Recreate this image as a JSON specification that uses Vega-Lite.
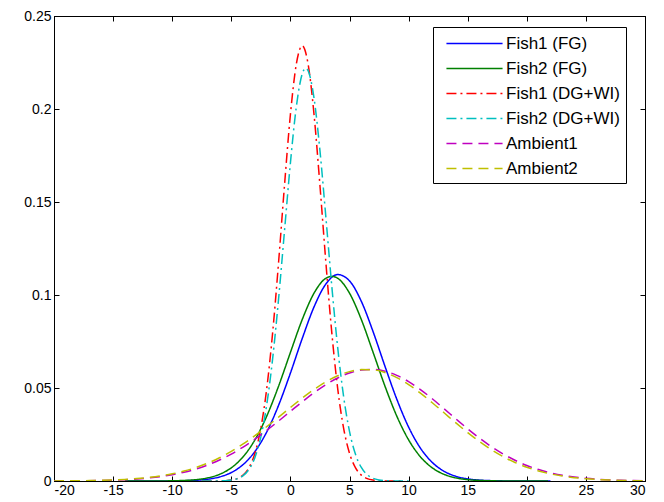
{
  "$schema": "https://vega.github.io/schema/vega-lite/v6.json",
  "width": 591,
  "height": 465,
  "autosize": {"type": "none"},
  "padding": {"left": 54, "top": 16, "right": 19, "bottom": 21},
  "background": "white",
  "config": {
    "view": {"stroke": "black", "strokeWidth": 1},
    "axis": {
      "domainColor": "black", "domainWidth": 1, "tickColor": "black", "tickSize": -5, "tickWidth": 1,
      "labelColor": "black", "labelFont": "Liberation Sans", "labelFontSize": 14, "grid": false, "title": null
    },
    "legend": {
      "strokeColor": "black", "fillColor": "white", "padding": 6, "cornerRadius": 0,
      "symbolType": "M-3,0H3", "symbolSize": 350, "symbolStrokeWidth": 1.5, "symbolOffset": 25,
      "labelFont": "Liberation Sans", "labelFontSize": 17, "labelColor": "black", "labelLimit": 300,
      "rowPadding": 6, "labelOffset": 21
    }
  },
  "datasets": {
    "curves": [
      {"s": "Fish1 (FG)", "x": -14, "y": 0.0000004},
      {"s": "Fish1 (FG)", "x": -13, "y": 0.0000014},
      {"s": "Fish1 (FG)", "x": -12, "y": 0.000005},
      {"s": "Fish1 (FG)", "x": -11, "y": 0.0000168},
      {"s": "Fish1 (FG)", "x": -10, "y": 0.0000517},
      {"s": "Fish1 (FG)", "x": -9, "y": 0.000148},
      {"s": "Fish1 (FG)", "x": -8, "y": 0.00039},
      {"s": "Fish1 (FG)", "x": -7, "y": 0.000957},
      {"s": "Fish1 (FG)", "x": -6, "y": 0.00217},
      {"s": "Fish1 (FG)", "x": -5, "y": 0.00455},
      {"s": "Fish1 (FG)", "x": -4, "y": 0.00884},
      {"s": "Fish1 (FG)", "x": -3, "y": 0.01587},
      {"s": "Fish1 (FG)", "x": -2, "y": 0.02642},
      {"s": "Fish1 (FG)", "x": -1, "y": 0.0407},
      {"s": "Fish1 (FG)", "x": 0, "y": 0.058},
      {"s": "Fish1 (FG)", "x": 1, "y": 0.0766},
      {"s": "Fish1 (FG)", "x": 2, "y": 0.0936},
      {"s": "Fish1 (FG)", "x": 3, "y": 0.1059},
      {"s": "Fish1 (FG)", "x": 4, "y": 0.111},
      {"s": "Fish1 (FG)", "x": 5, "y": 0.1076},
      {"s": "Fish1 (FG)", "x": 6, "y": 0.0966},
      {"s": "Fish1 (FG)", "x": 7, "y": 0.0802},
      {"s": "Fish1 (FG)", "x": 8, "y": 0.0617},
      {"s": "Fish1 (FG)", "x": 9, "y": 0.044},
      {"s": "Fish1 (FG)", "x": 10, "y": 0.029},
      {"s": "Fish1 (FG)", "x": 11, "y": 0.01768},
      {"s": "Fish1 (FG)", "x": 12, "y": 0.00999},
      {"s": "Fish1 (FG)", "x": 13, "y": 0.00523},
      {"s": "Fish1 (FG)", "x": 14, "y": 0.00253},
      {"s": "Fish1 (FG)", "x": 15, "y": 0.00113},
      {"s": "Fish1 (FG)", "x": 16, "y": 0.00047},
      {"s": "Fish1 (FG)", "x": 17, "y": 0.00018},
      {"s": "Fish1 (FG)", "x": 18, "y": 0.000064},
      {"s": "Fish1 (FG)", "x": 19, "y": 0.000021},
      {"s": "Fish1 (FG)", "x": 20, "y": 0.0000064},
      {"s": "Fish1 (FG)", "x": 21, "y": 0.0000018},
      {"s": "Fish1 (FG)", "x": 22, "y": 0.0000005},

      {"s": "Fish2 (FG)", "x": -14, "y": 0.000001},
      {"s": "Fish2 (FG)", "x": -13, "y": 0.0000036},
      {"s": "Fish2 (FG)", "x": -12, "y": 0.0000121},
      {"s": "Fish2 (FG)", "x": -11, "y": 0.0000377},
      {"s": "Fish2 (FG)", "x": -10, "y": 0.000109},
      {"s": "Fish2 (FG)", "x": -9, "y": 0.000293},
      {"s": "Fish2 (FG)", "x": -8, "y": 0.000727},
      {"s": "Fish2 (FG)", "x": -7, "y": 0.00168},
      {"s": "Fish2 (FG)", "x": -6, "y": 0.00358},
      {"s": "Fish2 (FG)", "x": -5, "y": 0.00709},
      {"s": "Fish2 (FG)", "x": -4, "y": 0.01301},
      {"s": "Fish2 (FG)", "x": -3, "y": 0.02213},
      {"s": "Fish2 (FG)", "x": -2, "y": 0.0349},
      {"s": "Fish2 (FG)", "x": -1, "y": 0.051},
      {"s": "Fish2 (FG)", "x": 0, "y": 0.0691},
      {"s": "Fish2 (FG)", "x": 1, "y": 0.0868},
      {"s": "Fish2 (FG)", "x": 2, "y": 0.101},
      {"s": "Fish2 (FG)", "x": 3, "y": 0.109},
      {"s": "Fish2 (FG)", "x": 3.5, "y": 0.11},
      {"s": "Fish2 (FG)", "x": 4, "y": 0.109},
      {"s": "Fish2 (FG)", "x": 5, "y": 0.101},
      {"s": "Fish2 (FG)", "x": 6, "y": 0.0868},
      {"s": "Fish2 (FG)", "x": 7, "y": 0.0691},
      {"s": "Fish2 (FG)", "x": 8, "y": 0.051},
      {"s": "Fish2 (FG)", "x": 9, "y": 0.0349},
      {"s": "Fish2 (FG)", "x": 10, "y": 0.02213},
      {"s": "Fish2 (FG)", "x": 11, "y": 0.01301},
      {"s": "Fish2 (FG)", "x": 12, "y": 0.00709},
      {"s": "Fish2 (FG)", "x": 13, "y": 0.00358},
      {"s": "Fish2 (FG)", "x": 14, "y": 0.00168},
      {"s": "Fish2 (FG)", "x": 15, "y": 0.000727},
      {"s": "Fish2 (FG)", "x": 16, "y": 0.000293},
      {"s": "Fish2 (FG)", "x": 17, "y": 0.000109},
      {"s": "Fish2 (FG)", "x": 18, "y": 0.0000377},
      {"s": "Fish2 (FG)", "x": 19, "y": 0.0000121},
      {"s": "Fish2 (FG)", "x": 20, "y": 0.0000036},
      {"s": "Fish2 (FG)", "x": 21, "y": 0.000001},
      {"s": "Fish2 (FG)", "x": 21.8, "y": 0.0000003},

      {"s": "Fish1 (DG+WI)", "x": -7.5, "y": 0.000001},
      {"s": "Fish1 (DG+WI)", "x": -7, "y": 0.0000039},
      {"s": "Fish1 (DG+WI)", "x": -6.5, "y": 0.0000147},
      {"s": "Fish1 (DG+WI)", "x": -6, "y": 0.000051},
      {"s": "Fish1 (DG+WI)", "x": -5.5, "y": 0.000163},
      {"s": "Fish1 (DG+WI)", "x": -5, "y": 0.00048},
      {"s": "Fish1 (DG+WI)", "x": -4.5, "y": 0.00129},
      {"s": "Fish1 (DG+WI)", "x": -4, "y": 0.00318},
      {"s": "Fish1 (DG+WI)", "x": -3.5, "y": 0.00719},
      {"s": "Fish1 (DG+WI)", "x": -3, "y": 0.01493},
      {"s": "Fish1 (DG+WI)", "x": -2.5, "y": 0.02845},
      {"s": "Fish1 (DG+WI)", "x": -2, "y": 0.04977},
      {"s": "Fish1 (DG+WI)", "x": -1.5, "y": 0.0799},
      {"s": "Fish1 (DG+WI)", "x": -1, "y": 0.1176},
      {"s": "Fish1 (DG+WI)", "x": -0.5, "y": 0.1589},
      {"s": "Fish1 (DG+WI)", "x": 0, "y": 0.197},
      {"s": "Fish1 (DG+WI)", "x": 0.5, "y": 0.2241},
      {"s": "Fish1 (DG+WI)", "x": 1, "y": 0.234},
      {"s": "Fish1 (DG+WI)", "x": 1.5, "y": 0.2241},
      {"s": "Fish1 (DG+WI)", "x": 2, "y": 0.197},
      {"s": "Fish1 (DG+WI)", "x": 2.5, "y": 0.1589},
      {"s": "Fish1 (DG+WI)", "x": 3, "y": 0.1176},
      {"s": "Fish1 (DG+WI)", "x": 3.5, "y": 0.0799},
      {"s": "Fish1 (DG+WI)", "x": 4, "y": 0.04977},
      {"s": "Fish1 (DG+WI)", "x": 4.5, "y": 0.02845},
      {"s": "Fish1 (DG+WI)", "x": 5, "y": 0.01493},
      {"s": "Fish1 (DG+WI)", "x": 5.5, "y": 0.00719},
      {"s": "Fish1 (DG+WI)", "x": 6, "y": 0.00318},
      {"s": "Fish1 (DG+WI)", "x": 6.5, "y": 0.00129},
      {"s": "Fish1 (DG+WI)", "x": 7, "y": 0.00048},
      {"s": "Fish1 (DG+WI)", "x": 7.5, "y": 0.000163},
      {"s": "Fish1 (DG+WI)", "x": 8, "y": 0.000051},
      {"s": "Fish1 (DG+WI)", "x": 8.5, "y": 0.0000147},
      {"s": "Fish1 (DG+WI)", "x": 9, "y": 0.0000039},
      {"s": "Fish1 (DG+WI)", "x": 9.5, "y": 0.000001},

      {"s": "Fish2 (DG+WI)", "x": -7.5, "y": 0.0000014},
      {"s": "Fish2 (DG+WI)", "x": -7, "y": 0.0000052},
      {"s": "Fish2 (DG+WI)", "x": -6.5, "y": 0.000018},
      {"s": "Fish2 (DG+WI)", "x": -6, "y": 0.000058},
      {"s": "Fish2 (DG+WI)", "x": -5.5, "y": 0.000173},
      {"s": "Fish2 (DG+WI)", "x": -5, "y": 0.000476},
      {"s": "Fish2 (DG+WI)", "x": -4.5, "y": 0.00121},
      {"s": "Fish2 (DG+WI)", "x": -4, "y": 0.00287},
      {"s": "Fish2 (DG+WI)", "x": -3.5, "y": 0.00626},
      {"s": "Fish2 (DG+WI)", "x": -3, "y": 0.01268},
      {"s": "Fish2 (DG+WI)", "x": -2.5, "y": 0.02373},
      {"s": "Fish2 (DG+WI)", "x": -2, "y": 0.0411},
      {"s": "Fish2 (DG+WI)", "x": -1.5, "y": 0.0659},
      {"s": "Fish2 (DG+WI)", "x": -1, "y": 0.0979},
      {"s": "Fish2 (DG+WI)", "x": -0.5, "y": 0.1344},
      {"s": "Fish2 (DG+WI)", "x": 0, "y": 0.1709},
      {"s": "Fish2 (DG+WI)", "x": 0.5, "y": 0.2011},
      {"s": "Fish2 (DG+WI)", "x": 1, "y": 0.2189},
      {"s": "Fish2 (DG+WI)", "x": 1.3, "y": 0.222},
      {"s": "Fish2 (DG+WI)", "x": 1.5, "y": 0.2206},
      {"s": "Fish2 (DG+WI)", "x": 2, "y": 0.2058},
      {"s": "Fish2 (DG+WI)", "x": 2.5, "y": 0.1776},
      {"s": "Fish2 (DG+WI)", "x": 3, "y": 0.1419},
      {"s": "Fish2 (DG+WI)", "x": 3.5, "y": 0.1049},
      {"s": "Fish2 (DG+WI)", "x": 4, "y": 0.0718},
      {"s": "Fish2 (DG+WI)", "x": 4.5, "y": 0.0455},
      {"s": "Fish2 (DG+WI)", "x": 5, "y": 0.02666},
      {"s": "Fish2 (DG+WI)", "x": 5.5, "y": 0.01446},
      {"s": "Fish2 (DG+WI)", "x": 6, "y": 0.00726},
      {"s": "Fish2 (DG+WI)", "x": 6.5, "y": 0.00337},
      {"s": "Fish2 (DG+WI)", "x": 7, "y": 0.00145},
      {"s": "Fish2 (DG+WI)", "x": 7.5, "y": 0.00058},
      {"s": "Fish2 (DG+WI)", "x": 8, "y": 0.000213},
      {"s": "Fish2 (DG+WI)", "x": 8.5, "y": 0.0000724},
      {"s": "Fish2 (DG+WI)", "x": 9, "y": 0.0000229},
      {"s": "Fish2 (DG+WI)", "x": 9.5, "y": 0.0000067},
      {"s": "Fish2 (DG+WI)", "x": 10, "y": 0.0000018},

      {"s": "Ambient1", "x": -20, "y": 0.0000394},
      {"s": "Ambient1", "x": -19, "y": 0.0000673},
      {"s": "Ambient1", "x": -18, "y": 0.000113},
      {"s": "Ambient1", "x": -17, "y": 0.000185},
      {"s": "Ambient1", "x": -16, "y": 0.000298},
      {"s": "Ambient1", "x": -15, "y": 0.00047},
      {"s": "Ambient1", "x": -14, "y": 0.000726},
      {"s": "Ambient1", "x": -13, "y": 0.0011},
      {"s": "Ambient1", "x": -12, "y": 0.00163},
      {"s": "Ambient1", "x": -11, "y": 0.00237},
      {"s": "Ambient1", "x": -10, "y": 0.00337},
      {"s": "Ambient1", "x": -9, "y": 0.0047},
      {"s": "Ambient1", "x": -8, "y": 0.00642},
      {"s": "Ambient1", "x": -7, "y": 0.0086},
      {"s": "Ambient1", "x": -6, "y": 0.01127},
      {"s": "Ambient1", "x": -5, "y": 0.01449},
      {"s": "Ambient1", "x": -4, "y": 0.01825},
      {"s": "Ambient1", "x": -3, "y": 0.02252},
      {"s": "Ambient1", "x": -2, "y": 0.02723},
      {"s": "Ambient1", "x": -1, "y": 0.03225},
      {"s": "Ambient1", "x": 0, "y": 0.03743},
      {"s": "Ambient1", "x": 1, "y": 0.04257},
      {"s": "Ambient1", "x": 2, "y": 0.04743},
      {"s": "Ambient1", "x": 3, "y": 0.05178},
      {"s": "Ambient1", "x": 4, "y": 0.05539},
      {"s": "Ambient1", "x": 5, "y": 0.05805},
      {"s": "Ambient1", "x": 6, "y": 0.05961},
      {"s": "Ambient1", "x": 7, "y": 0.05997},
      {"s": "Ambient1", "x": 8, "y": 0.05903},
      {"s": "Ambient1", "x": 9, "y": 0.05681},
      {"s": "Ambient1", "x": 10, "y": 0.05344},
      {"s": "Ambient1", "x": 11, "y": 0.04915},
      {"s": "Ambient1", "x": 12, "y": 0.0442},
      {"s": "Ambient1", "x": 13, "y": 0.03885},
      {"s": "Ambient1", "x": 14, "y": 0.03339},
      {"s": "Ambient1", "x": 15, "y": 0.02805},
      {"s": "Ambient1", "x": 16, "y": 0.02304},
      {"s": "Ambient1", "x": 17, "y": 0.0185},
      {"s": "Ambient1", "x": 18, "y": 0.01453},
      {"s": "Ambient1", "x": 19, "y": 0.01115},
      {"s": "Ambient1", "x": 20, "y": 0.00836},
      {"s": "Ambient1", "x": 21, "y": 0.00614},
      {"s": "Ambient1", "x": 22, "y": 0.0044},
      {"s": "Ambient1", "x": 23, "y": 0.00309},
      {"s": "Ambient1", "x": 24, "y": 0.00212},
      {"s": "Ambient1", "x": 25, "y": 0.00142},
      {"s": "Ambient1", "x": 26, "y": 0.00093},
      {"s": "Ambient1", "x": 27, "y": 0.0006},
      {"s": "Ambient1", "x": 28, "y": 0.00037},
      {"s": "Ambient1", "x": 29, "y": 0.00023},
      {"s": "Ambient1", "x": 30, "y": 0.00014},

      {"s": "Ambient2", "x": -20, "y": 0.0000489},
      {"s": "Ambient2", "x": -19, "y": 0.0000831},
      {"s": "Ambient2", "x": -18, "y": 0.000138},
      {"s": "Ambient2", "x": -17, "y": 0.000225},
      {"s": "Ambient2", "x": -16, "y": 0.000358},
      {"s": "Ambient2", "x": -15, "y": 0.000561},
      {"s": "Ambient2", "x": -14, "y": 0.000858},
      {"s": "Ambient2", "x": -13, "y": 0.00129},
      {"s": "Ambient2", "x": -12, "y": 0.0019},
      {"s": "Ambient2", "x": -11, "y": 0.00273},
      {"s": "Ambient2", "x": -10, "y": 0.00386},
      {"s": "Ambient2", "x": -9, "y": 0.00534},
      {"s": "Ambient2", "x": -8, "y": 0.00723},
      {"s": "Ambient2", "x": -7, "y": 0.00961},
      {"s": "Ambient2", "x": -6, "y": 0.0125},
      {"s": "Ambient2", "x": -5, "y": 0.01593},
      {"s": "Ambient2", "x": -4, "y": 0.0199},
      {"s": "Ambient2", "x": -3, "y": 0.02435},
      {"s": "Ambient2", "x": -2, "y": 0.02921},
      {"s": "Ambient2", "x": -1, "y": 0.03431},
      {"s": "Ambient2", "x": 0, "y": 0.0395},
      {"s": "Ambient2", "x": 1, "y": 0.04456},
      {"s": "Ambient2", "x": 2, "y": 0.04924},
      {"s": "Ambient2", "x": 3, "y": 0.05332},
      {"s": "Ambient2", "x": 4, "y": 0.05657},
      {"s": "Ambient2", "x": 5, "y": 0.05881},
      {"s": "Ambient2", "x": 6, "y": 0.0599},
      {"s": "Ambient2", "x": 7, "y": 0.05976},
      {"s": "Ambient2", "x": 8, "y": 0.05829},
      {"s": "Ambient2", "x": 9, "y": 0.05558},
      {"s": "Ambient2", "x": 10, "y": 0.05182},
      {"s": "Ambient2", "x": 11, "y": 0.04723},
      {"s": "Ambient2", "x": 12, "y": 0.04209},
      {"s": "Ambient2", "x": 13, "y": 0.03667},
      {"s": "Ambient2", "x": 14, "y": 0.03122},
      {"s": "Ambient2", "x": 15, "y": 0.026},
      {"s": "Ambient2", "x": 16, "y": 0.02117},
      {"s": "Ambient2", "x": 17, "y": 0.01684},
      {"s": "Ambient2", "x": 18, "y": 0.0131},
      {"s": "Ambient2", "x": 19, "y": 0.00997},
      {"s": "Ambient2", "x": 20, "y": 0.00741},
      {"s": "Ambient2", "x": 21, "y": 0.00539},
      {"s": "Ambient2", "x": 22, "y": 0.00383},
      {"s": "Ambient2", "x": 23, "y": 0.00266},
      {"s": "Ambient2", "x": 24, "y": 0.00181},
      {"s": "Ambient2", "x": 25, "y": 0.0012},
      {"s": "Ambient2", "x": 26, "y": 0.00078},
      {"s": "Ambient2", "x": 27, "y": 0.0005},
      {"s": "Ambient2", "x": 28, "y": 0.00031},
      {"s": "Ambient2", "x": 29, "y": 0.00019},
      {"s": "Ambient2", "x": 30, "y": 0.00011}
    ]
  },
  "resolve": {"axis": {"x": "independent", "y": "independent"}},
  "layer": [
    {
      "data": {"name": "curves"},
      "mark": {"type": "line", "strokeWidth": 1.5, "interpolate": "monotone", "clip": true},
      "encoding": {
        "x": {
          "field": "x", "type": "quantitative",
          "scale": {"domain": [-20, 30], "nice": false, "zero": false},
          "axis": {"orient": "bottom", "values": [-20, -15, -10, -5, 0, 5, 10, 15, 20, 25, 30], "labelExpr": "toString(datum.value)", "labelPadding": 7}
        },
        "y": {
          "field": "y", "type": "quantitative",
          "scale": {"domain": [0, 0.25], "nice": false},
          "axis": {"orient": "left", "values": [0, 0.05, 0.1, 0.15, 0.2, 0.25], "format": "~g", "labelPadding": 8}
        },
        "color": {
          "field": "s", "type": "nominal",
          "scale": {
            "domain": ["Fish1 (FG)", "Fish2 (FG)", "Fish1 (DG+WI)", "Fish2 (DG+WI)", "Ambient1", "Ambient2"],
            "range": ["#0000FF", "#008000", "#FF0000", "#00BFBF", "#BF00BF", "#BFBF00"]
          },
          "legend": {"title": null, "orient": "none", "legendX": 379, "legendY": 11}
        },
        "strokeDash": {
          "field": "s", "type": "nominal",
          "scale": {
            "domain": ["Fish1 (FG)", "Fish2 (FG)", "Fish1 (DG+WI)", "Fish2 (DG+WI)", "Ambient1", "Ambient2"],
            "range": [[1, 0], [1, 0], [10, 4, 2, 4], [10, 4, 2, 4], [10, 6], [10, 6]]
          },
          "legend": {"title": null, "orient": "none", "legendX": 379, "legendY": 11}
        }
      }
    },
    {
      "data": {"name": "curves"},
      "mark": {"type": "point", "opacity": 0},
      "encoding": {
        "x": {"field": "x", "type": "quantitative", "axis": {"orient": "top", "values": [-20, -15, -10, -5, 0, 5, 10, 15, 20, 25, 30], "labels": false}},
        "y": {"field": "y", "type": "quantitative", "axis": {"orient": "right", "values": [0, 0.05, 0.1, 0.15, 0.2, 0.25], "labels": false}}
      }
    }
  ]
}
